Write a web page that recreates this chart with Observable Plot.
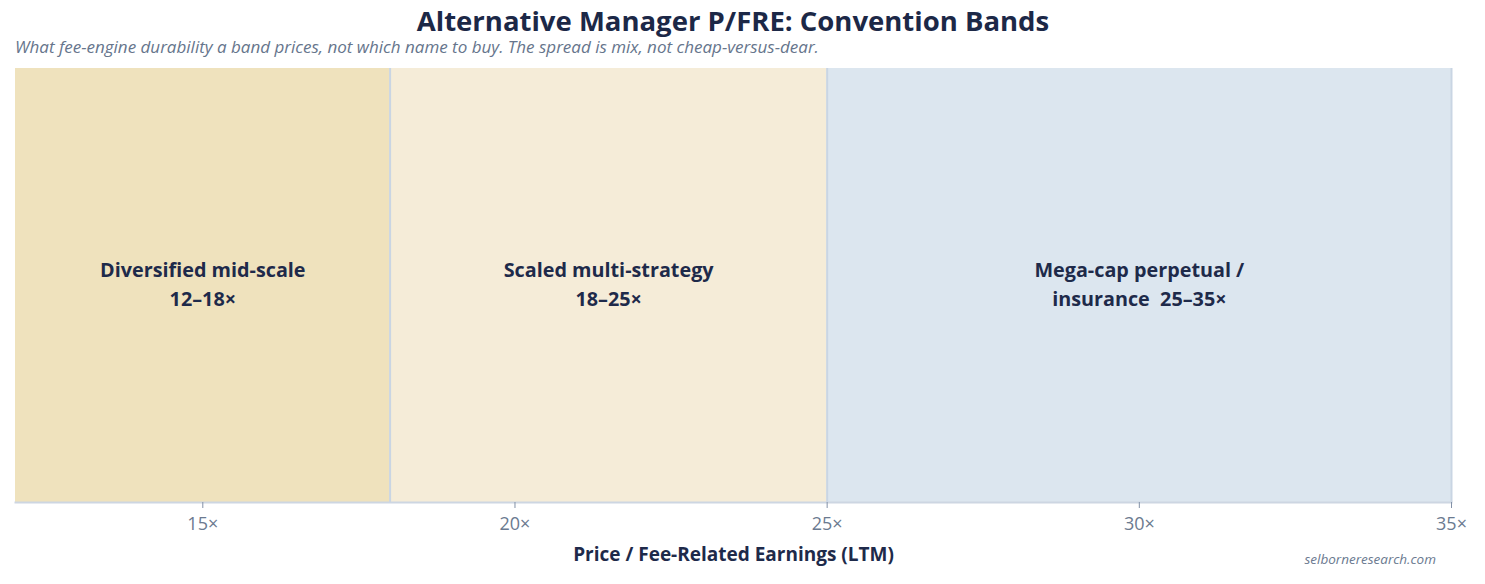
<!DOCTYPE html>
<html>
<head>
<meta charset="utf-8">
<script src="https://cdn.jsdelivr.net/npm/d3@7"></script>
<script src="https://cdn.jsdelivr.net/npm/@observablehq/plot@0.6"></script>
<style>
  html, body { margin: 0; padding: 0; background: #fff; }
  #wrap { position: relative; width: 1485px; height: 584px; font-family: "Open Sans", Lato, sans-serif; }
  #title { position: absolute; left: 0; width: 1466px; top: 6px; text-align: center; font-weight: 700; font-size: 27.5px; line-height: 30px; color: #1c2847; }
  #subtitle { position: absolute; left: 15px; top: 37px; font-style: italic; font-size: 17px; line-height: 20px; color: #66758c; }
  #footer { position: absolute; right: 49px; top: 550px; font-style: italic; font-size: 13.5px; color: #6b7a90; }
  #chart { position: absolute; left: 0; top: 0; }
</style>
</head>
<body>
<div id="wrap">
  <div id="chart"></div>
  <div id="title">Alternative Manager P/FRE: Convention Bands</div>
  <div id="subtitle">What fee-engine durability a band prices, not which name to buy. The spread is mix, not cheap-versus-dear.</div>
  <div id="footer">selborneresearch.com</div>
</div>
<script>
const bandNames = ["Diversified mid-scale", "Scaled multi-strategy", "Mega-cap perpetual /\ninsurance "];
const bandLow = [12, 18, 25];
const bandHigh = [18, 25, 35];
const bandColors = ["#efe2bd", "#f5ecd8", "#dce6ef"];
const xTicks = [15, 20, 25, 30, 35];
const xLabel = "Price / Fee-Related Earnings (LTM)";

const bands = bandNames.map((name, i) => ({
  name, lo: bandLow[i], hi: bandHigh[i], color: bandColors[i],
  label: name + (name.endsWith(" ") ? " " : "\n") + bandLow[i] + "–" + bandHigh[i] + "×"
}));

const chart = Plot.plot({
  width: 1485,
  height: 584,
  marginLeft: 15,
  marginRight: 34,
  marginTop: 68,
  marginBottom: 82,
  style: { fontFamily: "'Open Sans', Lato, sans-serif", background: "transparent" },
  x: { domain: [12, 35] },
  marks: [
    Plot.rectX(bands, { x1: "lo", x2: "hi", fill: "color" }),
    Plot.ruleX(bands, { x: "hi", stroke: "#c9d5e3", strokeWidth: 2 }),
    Plot.frame({ anchor: "bottom", stroke: "#cdd6e2", strokeWidth: 2 }),
    Plot.axisX({
      ticks: xTicks, tickFormat: d => d + "×", tickSize: 6, tickPadding: 9,
      stroke: "#8391a7", fill: "#6b7a90", fontSize: 18,
      label: null
    }),
    Plot.text([xLabel], { frameAnchor: "bottom", dy: 58, text: d => d, fontSize: 19, fontWeight: 700, fill: "#1e2a4a" }),
    Plot.text(bands, { x: d => (d.lo + d.hi) / 2, frameAnchor: "middle", dy: -3, text: "label", fontSize: 19.8, fontWeight: 700, fill: "#1e2a4a", lineHeight: 1.45 })
  ]
});
document.getElementById("chart").appendChild(chart);
</script>
</body>
</html>
